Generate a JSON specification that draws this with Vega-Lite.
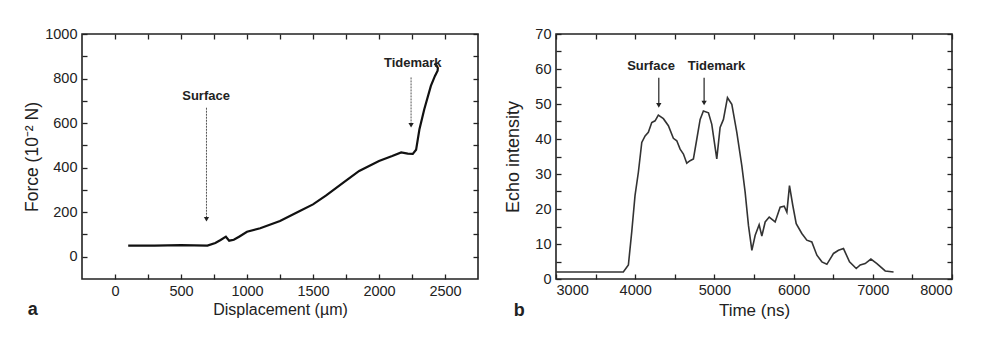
{
  "$schema": "https://vega.github.io/schema/vega-lite/v6.json",
  "background": "white",
  "padding": {"left": 22, "top": 25, "right": 5, "bottom": 5},
  "spacing": 24,
  "config": {
    "view": {"stroke": "#222", "strokeWidth": 1.6},
    "font": "Liberation Sans",
    "axis": {
      "domain": false, "grid": false,
      "tickColor": "#222", "tickSize": -5, "tickWidth": 1.3,
      "labelFont": "Liberation Sans", "labelFontSize": 14.5, "labelColor": "#222",
      "titleFont": "Liberation Sans", "titleFontSize": 16, "titleFontWeight": "normal", "titleColor": "#222"
    },
    "title": {"font": "Liberation Sans", "color": "#222"}
  },
  "datasets": {
    "force": [
      {"i": 0, "d": 100, "f": 50}, {"i": 1, "d": 300, "f": 50}, {"i": 2, "d": 500, "f": 52},
      {"i": 3, "d": 700, "f": 50}, {"i": 4, "d": 760, "f": 62}, {"i": 5, "d": 800, "f": 75},
      {"i": 6, "d": 840, "f": 90}, {"i": 7, "d": 865, "f": 72}, {"i": 8, "d": 900, "f": 76},
      {"i": 9, "d": 940, "f": 90}, {"i": 10, "d": 1000, "f": 112}, {"i": 11, "d": 1100, "f": 128},
      {"i": 12, "d": 1250, "f": 160}, {"i": 13, "d": 1400, "f": 205}, {"i": 14, "d": 1500, "f": 235},
      {"i": 15, "d": 1600, "f": 275}, {"i": 16, "d": 1750, "f": 342}, {"i": 17, "d": 1850, "f": 385},
      {"i": 18, "d": 2000, "f": 430}, {"i": 19, "d": 2100, "f": 452}, {"i": 20, "d": 2168, "f": 468},
      {"i": 21, "d": 2218, "f": 463}, {"i": 22, "d": 2256, "f": 462}, {"i": 23, "d": 2281, "f": 480},
      {"i": 24, "d": 2306, "f": 571}, {"i": 25, "d": 2343, "f": 662}, {"i": 26, "d": 2393, "f": 767},
      {"i": 27, "d": 2424, "f": 812}, {"i": 28, "d": 2444, "f": 835}, {"i": 29, "d": 2446, "f": 847},
      {"i": 30, "d": 2436, "f": 858}, {"i": 31, "d": 2420, "f": 868}
    ],
    "echo": [
      {"t": 3000, "e": 2}, {"t": 3850, "e": 2}, {"t": 3914, "e": 4}, {"t": 3956, "e": 13.4},
      {"t": 3998, "e": 23.9}, {"t": 4040, "e": 30.5}, {"t": 4083, "e": 39}, {"t": 4125, "e": 40.9},
      {"t": 4166, "e": 41.9}, {"t": 4209, "e": 44.7}, {"t": 4251, "e": 45.2}, {"t": 4292, "e": 46.8},
      {"t": 4356, "e": 45.8}, {"t": 4419, "e": 43.8}, {"t": 4482, "e": 40.2}, {"t": 4525, "e": 39.5},
      {"t": 4567, "e": 37.1}, {"t": 4609, "e": 35.7}, {"t": 4651, "e": 33.1}, {"t": 4693, "e": 33.8},
      {"t": 4735, "e": 34.3}, {"t": 4778, "e": 40}, {"t": 4820, "e": 45.6}, {"t": 4861, "e": 48},
      {"t": 4925, "e": 47.5}, {"t": 4967, "e": 44.2}, {"t": 5030, "e": 34.3}, {"t": 5072, "e": 43.3},
      {"t": 5114, "e": 45.6}, {"t": 5165, "e": 51.8}, {"t": 5220, "e": 49.9}, {"t": 5283, "e": 41.9},
      {"t": 5346, "e": 32.4}, {"t": 5388, "e": 24.8}, {"t": 5430, "e": 15.3}, {"t": 5473, "e": 8.2},
      {"t": 5515, "e": 12.5}, {"t": 5565, "e": 15.5}, {"t": 5599, "e": 12.3}, {"t": 5641, "e": 16.3},
      {"t": 5692, "e": 17.7}, {"t": 5767, "e": 16.3}, {"t": 5830, "e": 20.5}, {"t": 5881, "e": 20.8},
      {"t": 5915, "e": 19.1}, {"t": 5948, "e": 26.7}, {"t": 5990, "e": 21}, {"t": 6033, "e": 15.8},
      {"t": 6104, "e": 13}, {"t": 6167, "e": 11.1}, {"t": 6230, "e": 10.6}, {"t": 6294, "e": 6.8},
      {"t": 6357, "e": 4.9}, {"t": 6420, "e": 4.2}, {"t": 6504, "e": 7.3}, {"t": 6567, "e": 8.2},
      {"t": 6630, "e": 8.7}, {"t": 6706, "e": 4.9}, {"t": 6791, "e": 3}, {"t": 6841, "e": 4},
      {"t": 6904, "e": 4.4}, {"t": 6976, "e": 5.7}, {"t": 7052, "e": 4.4}, {"t": 7157, "e": 2.3},
      {"t": 7262, "e": 2}
    ],
    "forceNotes": [
      {"label": "Surface", "x": 690, "y": 722, "ax": 693, "top": 669, "tip": 168},
      {"label": "Tidemark", "x": 2256, "y": 872, "ax": 2243, "top": 805, "tip": 590}
    ],
    "echoNotes": [
      {"label": "Surface", "x": 4200, "y": 61, "ax": 4298, "top": 57.5, "tip": 49.6},
      {"label": "Tidemark", "x": 5026, "y": 61, "ax": 4870, "top": 57.5, "tip": 50.3}
    ]
  },
  "hconcat": [
    {
      "width": 396,
      "height": 245,
      "title": {"text": "a", "orient": "bottom", "anchor": "start", "frame": "bounds", "fontSize": 18, "fontWeight": "bold", "offset": -17, "dx": 4},
      "layer": [
        {
          "data": {"name": "force"},
          "mark": {"type": "line", "color": "#111", "strokeWidth": 2.2},
          "encoding": {
            "x": {"field": "d", "type": "quantitative",
              "scale": {"domain": [-250, 2750], "nice": false, "zero": false},
              "axis": {"orient": "bottom", "values": [0, 250, 500, 750, 1000, 1250, 1500, 1750, 2000, 2250, 2500], "format": "d", "labelExpr": "datum.value % 500 === 0 ? datum.label : ''", "title": "Displacement  (µm)", "labelPadding": 10, "titlePadding": 4}},
            "y": {"field": "f", "type": "quantitative",
              "scale": {"domain": [-100, 1000], "nice": false, "zero": false},
              "axis": {"orient": "left", "values": [0, 100, 200, 300, 400, 500, 600, 700, 800, 900, 1000], "format": "d", "labelExpr": "datum.value % 200 === 0 ? datum.label : ''", "title": "Force  (10⁻² N)", "titleFontSize": 17.5, "labelPadding": 10, "titlePadding": 3}},
            "order": {"field": "i", "type": "quantitative"}
          }
        },
        {
          "data": {"name": "force"},
          "mark": {"type": "line", "opacity": 0},
          "encoding": {
            "x": {"field": "d", "type": "quantitative",
              "axis": {"orient": "top", "values": [0, 250, 500, 750, 1000, 1250, 1500, 1750, 2000, 2250, 2500], "labels": false, "title": null}},
            "y": {"field": "f", "type": "quantitative",
              "axis": {"orient": "right", "values": [0, 100, 200, 300, 400, 500, 600, 700, 800, 900, 1000], "labels": false, "title": null}},
            "order": {"field": "i", "type": "quantitative"}
          }
        },
        {
          "data": {"name": "forceNotes"},
          "mark": {"type": "rule", "color": "#555", "strokeWidth": 1, "strokeDash": [2, 1]},
          "encoding": {
            "x": {"field": "ax", "type": "quantitative", "axis": null},
            "y": {"field": "top", "type": "quantitative", "axis": null},
            "y2": {"field": "tip"}
          }
        },
        {
          "data": {"name": "forceNotes"},
          "mark": {"type": "point", "shape": "triangle-down", "filled": true, "color": "#222", "size": 28, "opacity": 1},
          "encoding": {
            "x": {"field": "ax", "type": "quantitative", "axis": null},
            "y": {"field": "tip", "type": "quantitative", "axis": null}
          }
        },
        {
          "data": {"name": "forceNotes"},
          "mark": {"type": "text", "font": "Liberation Sans", "fontSize": 13, "fontWeight": "bold", "color": "#222", "baseline": "middle"},
          "encoding": {
            "x": {"field": "x", "type": "quantitative", "axis": null},
            "y": {"field": "y", "type": "quantitative", "axis": null},
            "text": {"field": "label"}
          }
        }
      ],
      "resolve": {"axis": {"x": "independent", "y": "independent"}}
    },
    {
      "width": 396,
      "height": 245,
      "title": {"text": "b", "orient": "bottom", "anchor": "start", "frame": "bounds", "fontSize": 18, "fontWeight": "bold", "offset": -17, "dx": 9},
      "layer": [
        {
          "data": {"name": "echo"},
          "mark": {"type": "line", "color": "#333", "strokeWidth": 1.6},
          "encoding": {
            "x": {"field": "t", "type": "quantitative",
              "scale": {"domain": [3000, 8000], "nice": false, "zero": false},
              "axis": {"orient": "bottom", "values": [3000, 3500, 4000, 4500, 5000, 5500, 6000, 6500, 7000, 7500, 8000], "format": "d", "labelExpr": "datum.value % 1000 === 0 ? datum.label : ''", "title": "Time (ns)", "titleFontSize": 17, "labelPadding": 9, "titlePadding": 6}},
            "y": {"field": "e", "type": "quantitative",
              "scale": {"domain": [0, 70], "nice": false},
              "axis": {"orient": "left", "values": [0, 5, 10, 15, 20, 25, 30, 35, 40, 45, 50, 55, 60, 65, 70], "format": "d", "labelExpr": "datum.value % 10 === 0 ? datum.label : ''", "title": "Echo intensity", "titleFontSize": 18, "labelPadding": 10, "titlePadding": 12}}
          }
        },
        {
          "data": {"name": "echo"},
          "mark": {"type": "line", "opacity": 0},
          "encoding": {
            "x": {"field": "t", "type": "quantitative",
              "axis": {"orient": "top", "values": [3000, 3500, 4000, 4500, 5000, 5500, 6000, 6500, 7000, 7500, 8000], "labels": false, "title": null}},
            "y": {"field": "e", "type": "quantitative",
              "axis": {"orient": "right", "values": [0, 5, 10, 15, 20, 25, 30, 35, 40, 45, 50, 55, 60, 65, 70], "labels": false, "title": null}}
          }
        },
        {
          "data": {"name": "echoNotes"},
          "mark": {"type": "rule", "color": "#222", "strokeWidth": 1.2},
          "encoding": {
            "x": {"field": "ax", "type": "quantitative", "axis": null},
            "y": {"field": "top", "type": "quantitative", "axis": null},
            "y2": {"field": "tip"}
          }
        },
        {
          "data": {"name": "echoNotes"},
          "mark": {"type": "point", "shape": "triangle-down", "filled": true, "color": "#222", "size": 28, "opacity": 1},
          "encoding": {
            "x": {"field": "ax", "type": "quantitative", "axis": null},
            "y": {"field": "tip", "type": "quantitative", "axis": null}
          }
        },
        {
          "data": {"name": "echoNotes"},
          "mark": {"type": "text", "font": "Liberation Sans", "fontSize": 13, "fontWeight": "bold", "color": "#222", "baseline": "middle"},
          "encoding": {
            "x": {"field": "x", "type": "quantitative", "axis": null},
            "y": {"field": "y", "type": "quantitative", "axis": null},
            "text": {"field": "label"}
          }
        }
      ],
      "resolve": {"axis": {"x": "independent", "y": "independent"}}
    }
  ]
}
